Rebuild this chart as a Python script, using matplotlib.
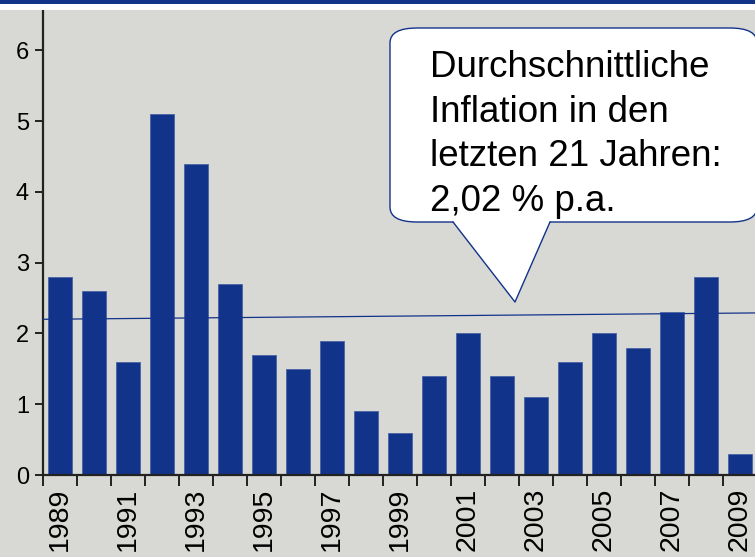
import numpy as np
import matplotlib.pyplot as plt
from matplotlib.patches import FancyBboxPatch, Polygon
from matplotlib.lines import Line2D

plt.rcParams['font.family'] = ['Liberation Sans', 'DejaVu Sans']

# Inflationsraten 1989-2009 (in %)
jahre = list(range(1989, 2010))
inflation = [2.8, 2.6, 1.6, 5.1, 4.4, 2.7, 1.7, 1.5, 1.9, 0.9, 0.6,
             1.4, 2.0, 1.4, 1.1, 1.6, 2.0, 1.8, 2.3, 2.8, 0.3]
# Trendlinie: Wert am linken und rechten Rand
trend = [2.2, 2.29]

text_box = 'Durchschnittliche\nInflation in den\nletzten 21 Jahren:\n2,02 % p.a.'

blau = '#12338a'
grau = '#d8d8d4'

W, H = 755, 557
fig = plt.figure(figsize=(W / 100, H / 100), dpi=100)
fig.patch.set_facecolor(grau)

# Streifen oben
fig.add_artist(plt.Rectangle((0, 1 - 10 / H), 1, 10 / H, transform=fig.transFigure,
                             facecolor='white', edgecolor='none'))
fig.add_artist(plt.Rectangle((0, 1 - 4 / H), 1, 4 / H, transform=fig.transFigure,
                             facecolor=blau, edgecolor='none'))

ax = fig.add_axes([43 / W, 82 / H, 714 / W, 465 / H])
ax.set_facecolor(grau)

x = np.arange(len(jahre))
ax.bar(x, inflation, width=0.72, color=blau, edgecolor='#4a63a8', linewidth=0.6, zorder=2)
ax.plot([-0.5, len(jahre) - 0.5], trend, color=blau, linewidth=0.9, zorder=3)

ax.set_xlim(-0.5, len(jahre) - 0.5)
ax.set_ylim(0, 6.57)

for s in ['top', 'right']:
    ax.spines[s].set_visible(False)
for s in ['left', 'bottom']:
    ax.spines[s].set_color('#222222')
    ax.spines[s].set_linewidth(1.6)

ax.set_yticks(range(0, 7))
ax.tick_params(axis='y', labelsize=17, length=6, width=1.4, color='#222222', pad=4)

# Striche zwischen den Balken, Beschriftung in der Mitte
ax.set_xticks(np.arange(-0.5, len(jahre), 1.0))
ax.set_xticklabels([])
ax.tick_params(axis='x', which='major', length=8, width=1.4, color='#222222')
ax.set_xticks(x[::2], minor=True)
ax.set_xticklabels([str(j) for j in jahre[::2]], minor=True, rotation=90)
ax.tick_params(axis='x', which='minor', length=0, labelsize=20.5, pad=9)

# Sprechblase
fx = lambda px: px / W
fy = lambda py: 1 - py / H
box = FancyBboxPatch((fx(390), fy(222)), fx(757) - fx(390), fy(28) - fy(222),
                     boxstyle='round,pad=0,rounding_size=0.036',
                     mutation_aspect=H / W,
                     transform=fig.transFigure, facecolor='white', edgecolor=blau,
                     linewidth=1.0, zorder=5)
fig.add_artist(box)
zeiger = Polygon([(fx(453), fy(221)), (fx(515), fy(302)), (fx(550), fy(221))],
                 closed=False, transform=fig.transFigure, facecolor='white',
                 edgecolor='none', zorder=6)
fig.add_artist(zeiger)
fig.add_artist(Line2D([fx(453), fx(515), fx(550)], [fy(222), fy(302), fy(222)],
                      transform=fig.transFigure, color=blau, linewidth=1.0, zorder=7))

fig.text(fx(430), fy(50), text_box, fontsize=26.5, va='top', ha='left',
         linespacing=1.36, zorder=8)

plt.savefig('out.png', dpi=100, facecolor=grau)
